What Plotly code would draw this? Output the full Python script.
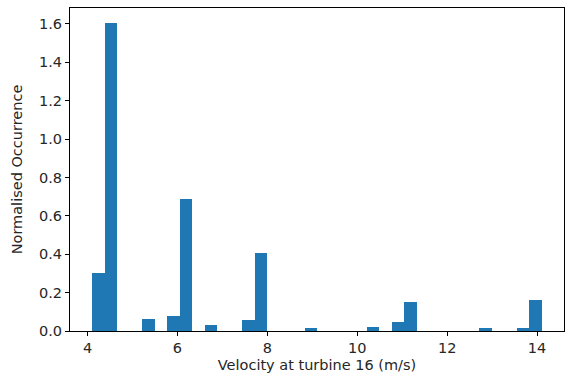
import plotly.graph_objects as go

# Histogram description (density-normalised, 36 equal bins)
data_min = 4.11
data_max = 14.10
n_bins = 36
bin_index = [0, 1, 4, 6, 7, 9, 12, 13, 17, 22, 24, 25, 31, 34, 35]
density = [0.303, 1.603, 0.063, 0.077, 0.690, 0.033, 0.055, 0.407, 0.016,
           0.021, 0.047, 0.153, 0.017, 0.017, 0.163]
x_ticks = [4, 6, 8, 10, 12, 14]
y_ticks = [0.0, 0.2, 0.4, 0.6, 0.8, 1.0, 1.2, 1.4, 1.6]

bw = (data_max - data_min) / n_bins
centers = [data_min + (i + 0.5) * bw for i in bin_index]

span = data_max - data_min
x_range = [data_min - 0.05 * span, data_max + 0.05 * span]
y_range = [0, max(density) * 1.05]

fig = go.Figure(go.Bar(
    x=centers, y=density, width=[bw] * len(centers),
    marker=dict(color="#1f77b4", line=dict(width=0)),
    hoverinfo="skip",
))

font = dict(family="DejaVu Sans", size=14.5, color="#262626")
fig.update_layout(
    width=567, height=383,
    margin=dict(l=70, r=3, t=8, b=52),
    paper_bgcolor="white", plot_bgcolor="white",
    showlegend=False, bargap=0,
    font=font,
)
fig.update_xaxes(
    range=x_range, tickvals=x_ticks, ticktext=[str(v) for v in x_ticks],
    showline=True, mirror=True, linecolor="black", linewidth=1,
    ticks="outside", ticklen=4, tickcolor="black", tickwidth=1,
    showgrid=False, zeroline=False,
    title=dict(text="Velocity at turbine 16 (m/s)", standoff=4, font=font),
    tickfont=font,
)
fig.update_yaxes(
    range=y_range, tickvals=y_ticks, ticktext=[f"{v:.1f}" for v in y_ticks],
    showline=True, mirror=True, linecolor="black", linewidth=1,
    ticks="outside", ticklen=4, tickcolor="black", tickwidth=1,
    showgrid=False, zeroline=False,
    title=dict(text="Normalised Occurrence", standoff=12, font=font),
    tickfont=font,
)

fig.write_html("out.html")
